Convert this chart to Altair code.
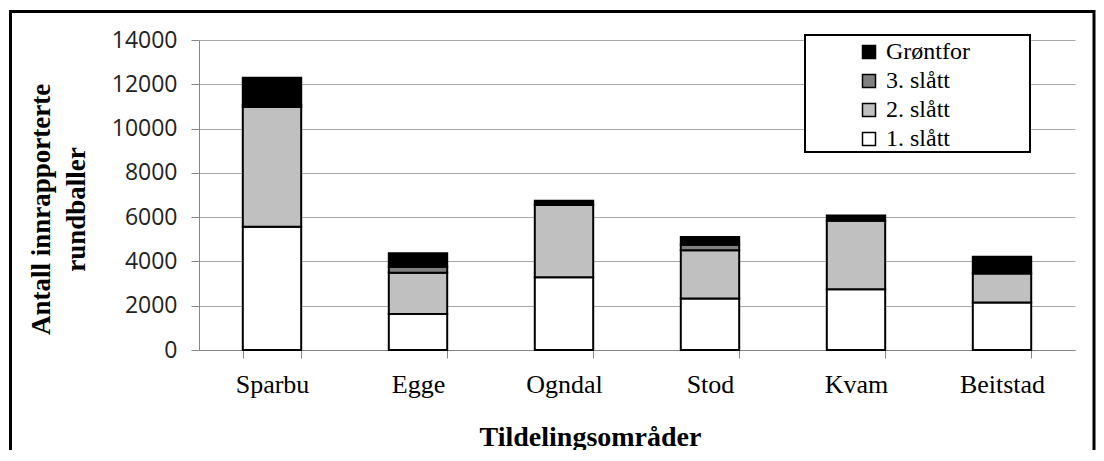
import altair as alt
import pandas as pd

areas = ["Sparbu", "Egge", "Ogndal", "Stod", "Kvam", "Beitstad"]
slatt1 = [5570, 1630, 3280, 2330, 2740, 2140]
slatt2 = [5400, 1860, 3270, 2170, 3100, 1320]
slatt3 = [100, 270, 0, 250, 0, 0]
gronnfor = [1230, 610, 190, 350, 230, 750]

series = ["1. slått", "2. slått", "3. slått", "Grøntfor"]
legend_order = ["Grøntfor", "3. slått", "2. slått", "1. slått"]
colors = ["#000000", "#808080", "#C0C0C0", "#FFFFFF"]
y_ticks = [0, 2000, 4000, 6000, 8000, 10000, 12000, 14000]

rows = []
for vals, name, o in zip([slatt1, slatt2, slatt3, gronnfor], series, [1, 2, 3, 4]):
    for a, v in zip(areas, vals):
        if v > 0:
            rows.append({"area": a, "series": name, "value": v, "ord": o})
df = pd.DataFrame(rows)
one = pd.DataFrame({"k": [0]})

serif = "Liberation Serif"

frame = alt.Chart(one).mark_rect(fill=None, stroke="black", strokeWidth=3).encode(
    x=alt.value(-188.5), x2=alt.value(895), y=alt.value(-28.5), y2=alt.value(700)
)

legend_box = alt.Chart(one).mark_rect(fill="white", stroke="black", strokeWidth=2).encode(
    x=alt.value(606), x2=alt.value(831), y=alt.value(-5), y2=alt.value(112)
)

bars = alt.Chart(df).mark_bar(stroke="black", strokeWidth=2).encode(
    x=alt.X(
        "area:N",
        sort=areas,
        scale=alt.Scale(paddingInner=0.6, paddingOuter=0.3),
        axis=alt.Axis(
            title="Tildelingsområder",
            titleFont=serif,
            titleFontSize=28,
            titleFontWeight="bold",
            titleColor="black",
            titleBaseline="middle",
            titleY=87,
            titleX=391,
            labelAngle=0,
            labelFont=serif,
            labelFontSize=26,
            labelColor="black",
            labelPadding=13,
            labelBaseline="top",
            tickBand="extent",
            tickSize=8,
            tickColor="#868686",
            domainColor="#868686",
            grid=False,
        ),
    ),
    y=alt.Y(
        "value:Q",
        stack="zero",
        scale=alt.Scale(domain=[0, 14000], nice=False),
        axis=alt.Axis(
            values=y_ticks,
            format="d",
            title=["Antall innrapporterte", "rundballer"],
            titleFont=serif,
            titleFontSize=27,
            titleFontWeight="bold",
            titleColor="black",
            titleAngle=270,
            titleBaseline="top",
            titleAlign="center",
            titleLineHeight=35,
            titleX=-171,
            titleY=169,
            labelFont="Open Sans",
            labelFontSize=23,
            labelColor="#222222",
            labelPadding=14,
            tickSize=8,
            tickColor="#868686",
            domainColor="#868686",
            gridColor="#A8A8A8",
        ),
    ),
    color=alt.Color(
        "series:N",
        scale=alt.Scale(domain=legend_order, range=colors),
        legend=alt.Legend(
            title=None,
            orient="none",
            legendX=658,
            legendY=0,
            symbolType="square",
            symbolSize=169,
            symbolStrokeColor="black",
            symbolStrokeWidth=1.5,
            labelFont=serif,
            labelFontSize=24,
            labelColor="black",
            labelOffset=5,
            rowPadding=5,
            padding=0,
        ),
    ),
    order=alt.Order("ord:Q"),
)

chart = alt.layer(frame, legend_box, bars).properties(
    width=876,
    height=310,
    autosize=alt.AutoSizeParams(type="none"),
    padding={"left": 191, "top": 32, "right": 21, "bottom": 100},
    background="white",
).configure_view(stroke=None)

chart.save("out.html", embed_options={"renderer": "svg", "actions": False})
